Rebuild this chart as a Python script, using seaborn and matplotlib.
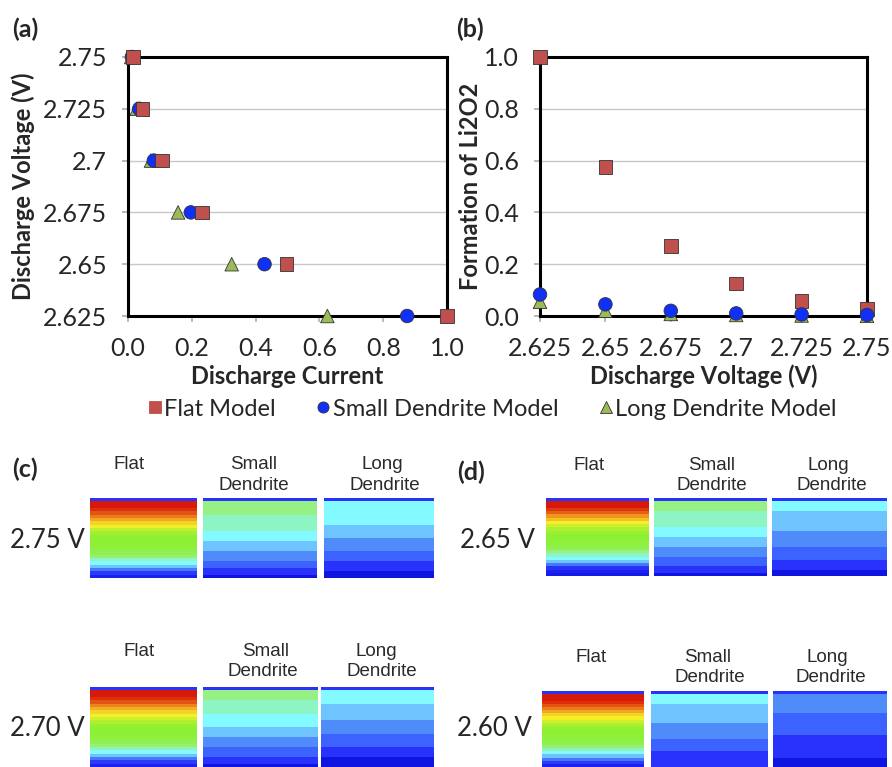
import matplotlib
matplotlib.use("Agg")
import matplotlib.pyplot as plt
from matplotlib.colors import LinearSegmentedColormap
import numpy as np
import pandas as pd
import seaborn as sns

# ---- panel (a): discharge current vs voltage
volt_a = [2.75, 2.725, 2.7, 2.675, 2.65, 2.625]
cur_flat = [0.016, 0.046, 0.107, 0.232, 0.497, 1.0]
cur_small = [0.012, 0.035, 0.081, 0.197, 0.428, 0.875]
cur_long = [0.010, 0.027, 0.072, 0.157, 0.325, 0.625]

# ---- panel (b): Li2O2 formation vs voltage
volt_b = [2.625, 2.65, 2.675, 2.7, 2.725, 2.75]
li_flat = [1.0, 0.575, 0.27, 0.125, 0.058, 0.028]
li_small = [0.083, 0.045, 0.02, 0.01, 0.006, 0.004]
li_long = [0.055, 0.02, 0.008, 0.004, 0.002, 0.001]

models = ["Flat Model", "Small Dendrite Model", "Long Dendrite Model"]

volt_ticks = [2.625, 2.65, 2.675, 2.7, 2.725, 2.75]
volt_labels = ["2.625", "2.65", "2.675", "2.7", "2.725", "2.75"]
frac_ticks = [0.0, 0.2, 0.4, 0.6, 0.8, 1.0]
frac_labels = ["0.0", "0.2", "0.4", "0.6", "0.8", "1.0"]

# ---- panels (c), (d): depth profiles of product (levels 0..11, top -> bottom)
flat_275 = [1, 11, 11, 10.8, 10.5, 10.2, 9.8, 9.3, 8.9, 8.5, 8.2, 8.0, 8.0, 8.0, 7.9, 7.8, 7.6, 7.2, 6.0, 5.0, 4.0, 2.5, 1.2, 0.5]
small_275 = [1, 7, 7, 7, 7, 6, 6, 6, 6, 6, 5, 5, 5, 4, 4, 4, 3, 3, 3, 2, 2, 1, 1, 0]
long_275 = [1, 5, 5, 5, 5, 5, 5, 5, 4, 4, 4, 4, 3, 3, 3, 3, 2, 2, 2, 1, 1, 1, 0, 0]
flat_270 = [1, 11, 11, 10.8, 10.5, 10.1, 9.7, 9.3, 9.0, 8.6, 8.3, 8.1, 8.0, 8.0, 7.9, 7.8, 7.6, 7.2, 6.2, 5.0, 4.0, 2.5, 1.2, 0.5]
small_270 = [1, 7, 7, 7, 6, 6, 6, 6, 5, 5, 5, 5, 4, 4, 4, 3, 3, 3, 2, 2, 2, 1, 1, 0]
long_270 = [1, 5, 5, 5, 5, 4, 4, 4, 4, 4, 3, 3, 3, 3, 2, 2, 2, 2, 1, 1, 1, 0, 0, 0]
flat_265 = [1, 11, 11, 10.7, 10.4, 10.0, 9.5, 9.0, 8.6, 8.3, 8.1, 8.0, 8.0, 7.9, 7.8, 7.6, 7.0, 6.0, 5.0, 4.0, 2.5, 1.0, 0.5, 0.3]
small_265 = [1, 7, 7, 7, 6, 6, 6, 6, 6, 5, 5, 5, 4, 4, 4, 3, 3, 3, 2, 2, 2, 1, 1, 0]
long_265 = [1, 5, 5, 5, 4, 4, 4, 4, 4, 4, 3, 3, 3, 3, 3, 2, 2, 2, 2, 1, 1, 1, 0, 0]
flat_260 = [1, 11, 11, 10.8, 10.5, 10.2, 9.8, 9.3, 9.0, 8.6, 8.3, 8.1, 8.0, 8.0, 7.9, 7.8, 7.6, 7.2, 6.2, 5.0, 4.0, 2.5, 1.2, 0.5]
small_260 = [1, 5, 5, 5, 4, 4, 4, 4, 4, 4, 3, 3, 3, 3, 3, 2, 2, 2, 2, 1, 1, 1, 1, 1]
long_260 = [1, 3, 3, 3, 3, 3, 3, 2, 2, 2, 2, 2, 2, 2, 1, 1, 1, 1, 1, 1, 1, 0, 0, 0]

sns.set_theme(style="white")
plt.rcParams["font.family"] = ["Lato", "DejaVu Sans"]

W, H = 892, 767
fig = plt.figure(figsize=(W / 100, H / 100), dpi=100)


def box(l, t, r, b):
    return [l / W, 1 - b / H, (r - l) / W, (b - t) / H]


palette = {"Flat Model": "#C0504D", "Small Dendrite Model": "#1030F5", "Long Dendrite Model": "#9BBB59"}
markers = {"Flat Model": "s", "Small Dendrite Model": "o", "Long Dendrite Model": "^"}

df_a = pd.concat([
    pd.DataFrame({"current": cur_long, "voltage": volt_a, "model": models[2]}),
    pd.DataFrame({"current": cur_small, "voltage": volt_a, "model": models[1]}),
    pd.DataFrame({"current": cur_flat, "voltage": volt_a, "model": models[0]}),
])
df_b = pd.concat([
    pd.DataFrame({"voltage": volt_b, "li2o2": li_flat, "model": models[0]}),
    pd.DataFrame({"voltage": volt_b, "li2o2": li_long, "model": models[2]}),
    pd.DataFrame({"voltage": volt_b, "li2o2": li_small, "model": models[1]}),
])


def style_axes(ax):
    ax.grid(True, axis="y", color="#c8c8c8", lw=1)
    ax.grid(False, axis="x")
    for s in ax.spines.values():
        s.set_visible(True)
        s.set_color("black")
        s.set_linewidth(2.2)
    ax.tick_params(axis="both", labelsize=18, length=4, color="#b0b0b0",
                   direction="out", bottom=True, left=True, pad=11)
    ax.set_axisbelow(True)


ax_a = fig.add_axes(box(128, 57, 447, 316))
sns.scatterplot(data=df_a, x="current", y="voltage", hue="model", style="model",
                palette=palette, markers=markers, s=95, ax=ax_a, legend=False,
                edgecolor="#333333", linewidth=0.6, clip_on=False, zorder=3)
ax_a.set_xlim(0, 1.0)
ax_a.set_ylim(2.625, 2.75)
ax_a.set_xticks(frac_ticks)
ax_a.set_xticklabels(frac_labels)
ax_a.set_yticks(volt_ticks)
ax_a.set_yticklabels(volt_labels)
style_axes(ax_a)
ax_a.set_xlabel("Discharge Current", fontsize=17, fontweight="bold")
ax_a.set_ylabel("Discharge Voltage (V)", fontsize=17, fontweight="bold")
ax_a.xaxis.set_label_coords(0.5, -0.19)
ax_a.yaxis.set_label_coords(-0.29, 0.5)

ax_b = fig.add_axes(box(540, 57, 867, 316))
sns.scatterplot(data=df_b, x="voltage", y="li2o2", hue="model", style="model",
                palette=palette, markers=markers, s=95, ax=ax_b, legend=False,
                edgecolor="#333333", linewidth=0.6, clip_on=False, zorder=3)
ax_b.set_xlim(2.625, 2.75)
ax_b.set_ylim(0, 1.0)
ax_b.set_xticks(volt_ticks)
ax_b.set_xticklabels(volt_labels)
ax_b.set_yticks(frac_ticks)
ax_b.set_yticklabels(frac_labels)
style_axes(ax_b)
ax_b.set_xlabel("Discharge Voltage (V)", fontsize=17, fontweight="bold")
ax_b.set_ylabel("Formation of Li2O2", fontsize=17, fontweight="bold")
ax_b.xaxis.set_label_coords(0.5, -0.185)
ax_b.yaxis.set_label_coords(-0.177, 0.5)

fig.text(12 / W, 1 - 29 / H, "(a)", fontsize=18, fontweight="bold", va="center")
fig.text(456 / W, 1 - 29 / H, "(b)", fontsize=18, fontweight="bold", va="center")

handles = [plt.Line2D([], [], ls="", marker=markers[m], color=palette[m], markersize=8,
                      markeredgecolor="#333333" if m != "Flat Model" else palette[m],
                      markeredgewidth=0.6) for m in models]
fig.legend(handles, models, loc="center", bbox_to_anchor=(491 / W, 1 - 409 / H), ncol=3,
           frameon=False, fontsize=17, handletextpad=0.0, columnspacing=1.6,
           handlelength=0.8)

# ---- contour-like images
band_colors = [(15, 20, 225), (40, 50, 250), (60, 100, 255), (80, 140, 250),
               (110, 195, 255), (130, 250, 255), (140, 245, 195), (150, 240, 130),
               (140, 240, 50), (245, 240, 40), (240, 150, 30), (215, 25, 10)]
cmap = LinearSegmentedColormap.from_list("bands", [tuple(c / 255 for c in rgb) for rgb in band_colors])

panels = [
    (flat_275, (90, 498, 197, 578)), (small_275, (203, 498, 317, 578)), (long_275, (324, 498, 434, 578)),
    (flat_270, (90, 687, 197, 767)), (small_270, (203, 687, 318, 767)), (long_270, (321, 687, 434, 767)),
    (flat_265, (546, 498, 649, 576)), (small_265, (654, 498, 767, 576)), (long_265, (772, 498, 887, 576)),
    (flat_260, (542, 691, 644, 767)), (small_260, (651, 691, 768, 767)), (long_260, (773, 691, 887, 767)),
]
for prof, (l, t, r, b) in panels:
    ax = fig.add_axes(box(l, t, r, b))
    sns.heatmap(np.array(prof)[:, None], ax=ax, cmap=cmap, vmin=0, vmax=11, cbar=False,
                xticklabels=False, yticklabels=False)
    ax.set_xlabel("")
    ax.set_ylabel("")

fig.text(12 / W, 1 - 469 / H, "(c)", fontsize=18, fontweight="bold", va="center")
fig.text(457 / W, 1 - 472 / H, "(d)", fontsize=18, fontweight="bold", va="center")

volt_texts = [("2.75 V", 85, 540), ("2.70 V", 85, 728), ("2.65 V", 535, 540), ("2.60 V", 532, 728)]
for txt, x, y in volt_texts:
    fig.text(x / W, 1 - y / H, txt, fontsize=18.5, ha="right", va="center")

label_pos = [
    ("Flat", 129, 464), ("Small", 254, 464), ("Dendrite", 254, 485),
    ("Long", 382, 464), ("Dendrite", 385, 485),
    ("Flat", 139, 652), ("Small", 266, 652), ("Dendrite", 263, 672),
    ("Long", 376, 652), ("Dendrite", 382, 672),
    ("Flat", 589, 465), ("Small", 712, 465), ("Dendrite", 712, 486),
    ("Long", 828, 465), ("Dendrite", 832, 486),
    ("Flat", 591, 657), ("Small", 708, 657), ("Dendrite", 710, 677),
    ("Long", 827, 657), ("Dendrite", 831, 677),
]
for txt, x, y in label_pos:
    fig.text(x / W, 1 - y / H, txt, fontsize=13.5, ha="center", va="center",
             family=["Liberation Sans", "DejaVu Sans"], color="#2a2a2a")

fig.savefig("out.png", dpi=100)
